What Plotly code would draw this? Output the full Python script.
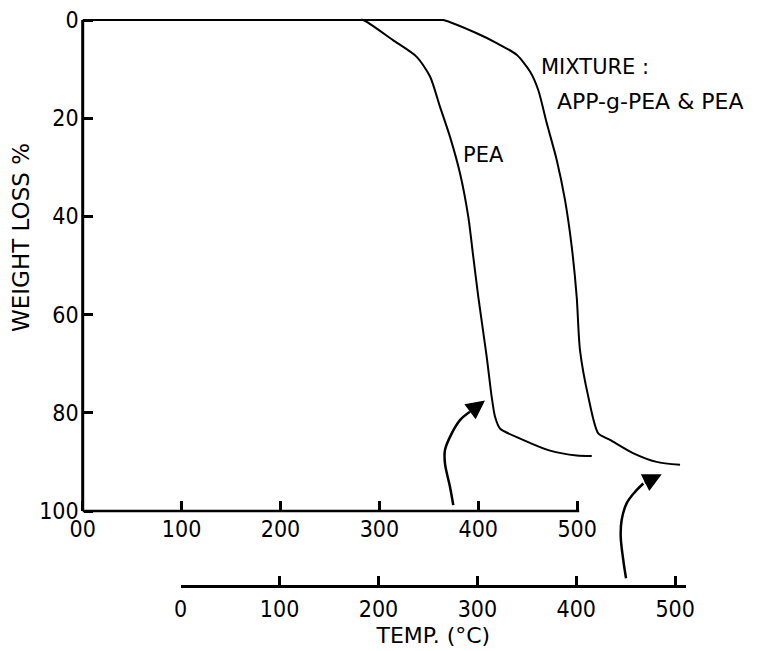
import plotly.graph_objects as go

# ---- data ----
# PEA curve, plotted against the upper temperature scale
pea_temp = [0, 200, 279, 283.7, 313.7, 337.7, 351.2, 361.3, 371.4, 381.5, 389.9, 394.9, 400.0,
            408.5, 413.5, 416.9, 421.9, 445.2, 472.5, 499.5, 514.7]
pea_loss = [0, 0, 0, 0, 4.1, 7.5, 11.5, 17.7, 23.8, 31.2, 40.1, 48.2, 56.4,
            68.6, 76.7, 80.8, 83.2, 85.5, 87.7, 88.7, 88.8]

# Mixture APP-g-PEA & PEA, plotted against the lower temperature scale
mix_temp = [0, 200, 261, 265.5, 299.3, 319.5, 339.7, 353.2, 361.6, 370.1, 380.2, 388.6, 395.4,
            400.4, 403.7, 412.1, 422.2, 434.1, 457.3, 481.3, 504.9]
mix_loss = [0, 0, 0, 0, 2.7, 4.7, 7.1, 10.5, 14.3, 21.0, 28.5, 36.7, 46.2,
            56.4, 67.2, 76.7, 84.2, 85.5, 88.2, 90.0, 90.6]

# curved pointer arrows (scale -> curve)
pea_arrow_x = [374.7, 371.4, 366.3, 366.3, 371.4, 381.5, 391.6]
pea_arrow_y = [98.8, 95.1, 90.3, 87.6, 84.9, 81.5, 79.8]
pea_arrow_tip = (406.8, 77.5)
mix_arrow_x = [450.3, 447.5, 444.9, 445.9, 451.0, 459.4, 467.8]
mix_arrow_y = [113.7, 110.0, 105.2, 101.8, 98.4, 96.1, 94.4]
mix_arrow_tip = (486.4, 92.5)

y_ticks = [0, 20, 40, 60, 80, 100]
y_ticktext = ["0", "20", "40", "60", "80", "100"]
x1_ticks = [0, 100, 200, 300, 400, 500]
x1_ticktext = ["00", "100", "200", "300", "400", "500"]
x2_ticks = [0, 100, 200, 300, 400, 500]
x2_ticktext = ["0", "100", "200", "300", "400", "500"]

# ---- layout geometry (targets in window px; page body adds an 8px offset) ----
OFF = 8
W, H = 771, 651
L, R, T, B = 78 - OFF, 26 + OFF, 15 - OFF, 51 + OFF
pw, ph = W - L - R, H - T - B
xs = 0.989   # px per degree
ys = 4.91    # px per %
x0_px = 82.7 - OFF     # x = 0 of upper scale
y0_px = 20.0 - OFF     # loss = 0
x1_axis_px = 511 - OFF
x2_axis_px = 586 - OFF
x2_start_px, x2_end_px = 180.7 - OFF, 686.0 - OFF

x1_range = [-(x0_px - L) / xs, -(x0_px - L) / xs + pw / xs]
y_range = [(T + ph - y0_px) / ys, -(y0_px - T) / ys]

tick_font = dict(family="Liberation Sans Narrow, DejaVu Sans Condensed, DejaVu Sans",
                 size=23, color="black")
txt_font = dict(family="DejaVu Sans", size=21, color="black")

fig = go.Figure()
line_style = dict(color="black", width=2)
fig.add_trace(go.Scatter(x=pea_temp, y=pea_loss, mode="lines",
                         line=dict(shape="spline", smoothing=0.7, **line_style),
                         xaxis="x", yaxis="y", showlegend=False, hoverinfo="skip"))
fig.add_trace(go.Scatter(x=mix_temp, y=mix_loss, mode="lines",
                         line=dict(shape="spline", smoothing=0.7, **line_style),
                         xaxis="x2", yaxis="y", showlegend=False, hoverinfo="skip"))
fig.add_trace(go.Scatter(x=pea_arrow_x, y=pea_arrow_y, mode="lines",
                         line=dict(color="black", width=2.5, shape="spline"),
                         xaxis="x", yaxis="y", showlegend=False, hoverinfo="skip"))
fig.add_trace(go.Scatter(x=mix_arrow_x, y=mix_arrow_y, mode="lines",
                         line=dict(color="black", width=2.5, shape="spline"),
                         xaxis="x2", yaxis="y", showlegend=False, hoverinfo="skip"))

fig.update_layout(
    width=W, height=H,
    margin=dict(l=L, r=R, t=T, b=B, autoexpand=False),
    paper_bgcolor="white", plot_bgcolor="rgba(0,0,0,0)",
    xaxis=dict(domain=[0, 1], range=x1_range, anchor="free", position=(T + ph - x1_axis_px) / ph,
               showline=False, showgrid=False, zeroline=False, automargin=False,
               tickmode="array", tickvals=x1_ticks, ticktext=x1_ticktext,
               ticks="inside", ticklen=10, tickwidth=2.5, tickcolor="black",
               tickfont=tick_font, ticklabelstandoff=2, ticklabeloverflow="allow"),
    xaxis2=dict(domain=[(x2_start_px - L) / pw, (x2_end_px - L) / pw],
                range=[0, (x2_end_px - x2_start_px) / xs],
                anchor="free", position=(T + ph - x2_axis_px) / ph,
                showline=True, linewidth=2.5, linecolor="black",
                showgrid=False, zeroline=False, automargin=False,
                tickmode="array", tickvals=x2_ticks, ticktext=x2_ticktext,
                ticks="inside", ticklen=9, tickwidth=2.5, tickcolor="black",
                tickfont=tick_font, ticklabelstandoff=2, ticklabeloverflow="allow",
                title=dict(text="TEMP. (°C)", font=dict(family="DejaVu Sans", size=22, color="black"),
                           standoff=6)),
    yaxis=dict(domain=[0, 1], range=y_range, anchor="free", position=(x0_px - L) / pw,
               showline=False, showgrid=False, zeroline=False, automargin=False,
               tickmode="array", tickvals=y_ticks, ticktext=y_ticktext,
               ticks="inside", ticklen=9, tickwidth=2.5, tickcolor="black",
               tickfont=tick_font, ticklabelstandoff=4, ticklabeloverflow="allow"),
)

# axis lines that stop at the scale ends
fig.add_shape(type="line", xref="x", yref="y", x0=0, x1=0, y0=0, y1=100,
              line=dict(color="black", width=3))
fig.add_shape(type="line", xref="x", yref="y", x0=0, x1=502, y0=100, y1=100,
              line=dict(color="black", width=2.5))

# arrowheads
fig.add_annotation(x=pea_arrow_tip[0], y=pea_arrow_tip[1], ax=pea_arrow_x[-1], ay=pea_arrow_y[-1],
                   xref="x", yref="y", axref="x", ayref="y", text="", showarrow=True,
                   arrowhead=2, arrowsize=1.5, arrowwidth=2.5, arrowcolor="black")
fig.add_annotation(x=mix_arrow_tip[0], y=mix_arrow_tip[1], ax=mix_arrow_x[-1], ay=mix_arrow_y[-1],
                   xref="x2", yref="y", axref="x2", ayref="y", text="", showarrow=True,
                   arrowhead=2, arrowsize=1.5, arrowwidth=2.5, arrowcolor="black")

# labels
fig.add_annotation(x=404.8, y=27.5, xref="x", yref="y", text="PEA", showarrow=False,
                   font=txt_font, xanchor="center", yanchor="middle")
fig.add_annotation(x=461.4, y=9.5, xref="x", yref="y", text="MIXTURE :", showarrow=False,
                   font=dict(family="DejaVu Sans", size=21, color="black"), xanchor="left", yanchor="middle")
fig.add_annotation(x=477.6, y=16.6, xref="x", yref="y", text="APP-g-PEA & PEA", showarrow=False,
                   font=dict(family="DejaVu Sans", size=22, color="black"), xanchor="left", yanchor="middle")
fig.add_annotation(x=(21 - OFF - L) / pw, y=(T + ph - (238 - OFF)) / ph, xref="paper", yref="paper",
                   text="WEIGHT LOSS %", showarrow=False, textangle=-90,
                   font=dict(family="DejaVu Sans", size=23, color="black"),
                   xanchor="center", yanchor="middle")

fig.write_html("out.html")
